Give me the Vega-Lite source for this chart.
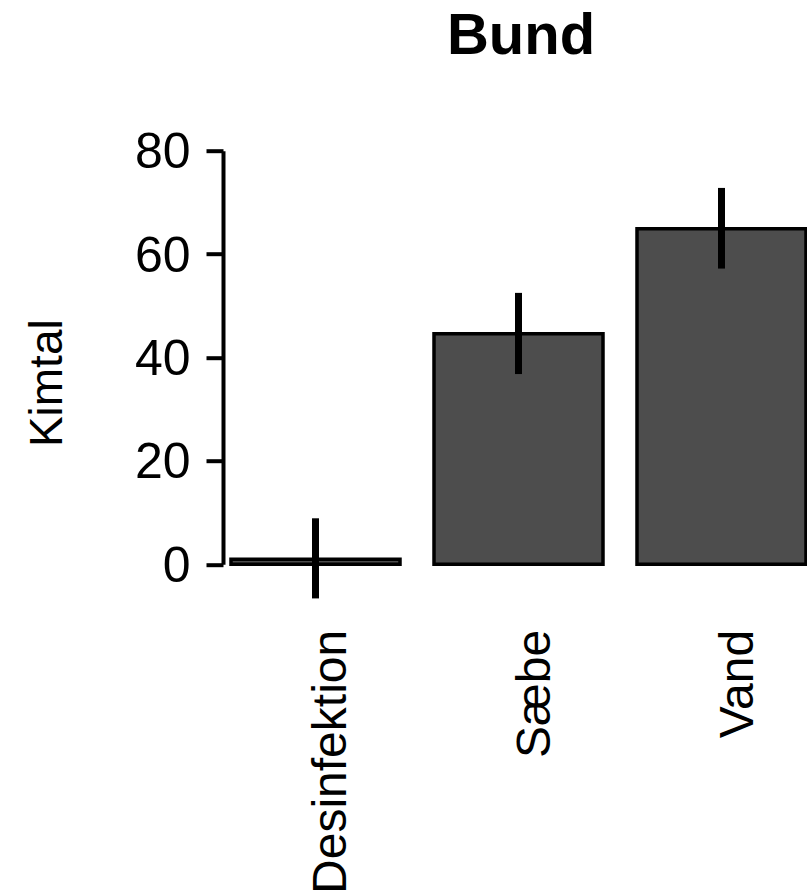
{
  "$schema": "https://vega.github.io/schema/vega-lite/v6.json",
  "autosize": "none",
  "padding": {"left": 223, "top": 150.7, "right": 0, "bottom": 330.7},
  "width": 584,
  "height": 413.6,
  "background": "white",
  "config": {
    "font": "Liberation Sans",
    "view": {"stroke": null}
  },
  "title": {
    "text": "Bund",
    "fontSize": 58,
    "fontWeight": "bold",
    "color": "black",
    "anchor": "middle",
    "baseline": "alphabetic",
    "offset": 15.7,
    "dx": 6
  },
  "data": {
    "values": [
      {"grp": "Desinfektion", "mean": 1.0, "lo": -6.6, "hi": 8.9},
      {"grp": "Sæbe", "mean": 44.6, "lo": 36.8, "hi": 52.5},
      {"grp": "Vand", "mean": 64.9, "lo": 57.2, "hi": 72.8}
    ]
  },
  "encoding": {
    "x": {
      "field": "grp",
      "type": "nominal",
      "sort": null,
      "scale": {"range": [0, 591], "paddingInner": 0.1675, "paddingOuter": 0.0394},
      "axis": {
        "title": null,
        "domain": false,
        "ticks": false,
        "labelAngle": 270,
        "labelAlign": "right",
        "labelBaseline": "alphabetic",
        "labelOffset": 31,
        "labelPadding": 65,
        "labelFontSize": 48,
        "labelLimit": 0,
        "labelColor": "black",
        "labelFont": "Liberation Sans"
      }
    }
  },
  "layer": [
    {
      "mark": {"type": "bar", "fill": "#4d4d4d", "stroke": "black", "strokeWidth": 3.5},
      "encoding": {
        "y": {
          "field": "mean",
          "type": "quantitative",
          "scale": {"domain": [0, 80], "nice": false, "zero": true},
          "axis": {
            "title": "Kimtal",
            "values": [0, 20, 40, 60, 80],
            "grid": false,
            "domainWidth": 4,
            "domainColor": "black",
            "tickWidth": 4,
            "tickColor": "black",
            "tickSize": 17,
            "labelPadding": 16,
            "labelFontSize": 50,
            "labelOffset": 2,
            "labelColor": "black",
            "labelFont": "Liberation Sans",
            "titleFontSize": 46,
            "titleFontWeight": "normal",
            "titleColor": "black",
            "titleFont": "Liberation Sans",
            "titleAngle": 270,
            "titleAlign": "center",
            "titleBaseline": "alphabetic",
            "titleX": -162,
            "titleY": 232
          }
        }
      }
    },
    {
      "mark": {"type": "rule", "color": "black", "strokeWidth": 7},
      "encoding": {
        "y": {"field": "lo", "type": "quantitative"},
        "y2": {"field": "hi"}
      }
    }
  ]
}
